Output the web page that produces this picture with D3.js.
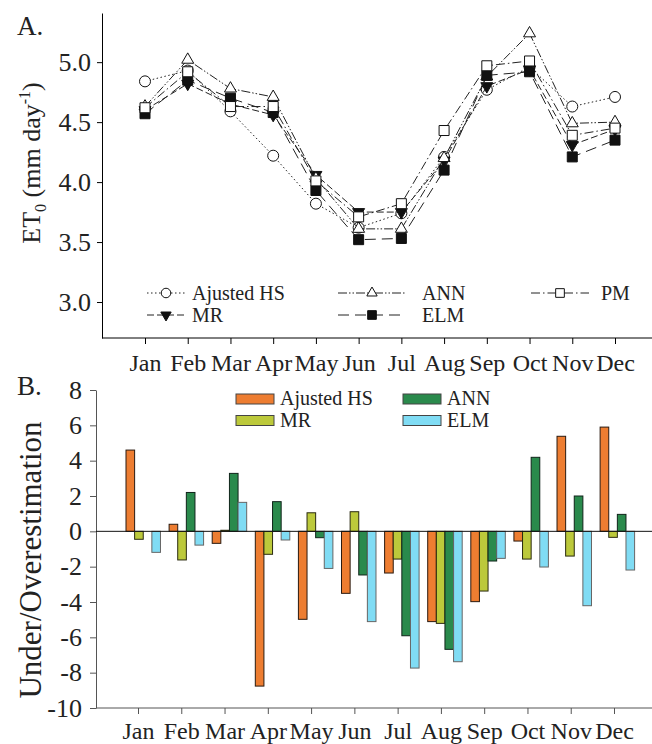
<!DOCTYPE html>
<html>
<head>
<meta charset="utf-8">
<script src="https://cdn.jsdelivr.net/npm/d3@7"></script>
<style>
body { margin: 0; background: #fff; }
svg text { font-family: "Liberation Serif", "Times New Roman", serif; fill: #222; }
</style>
</head>
<body>
<div id="chart"></div>
<script>
// months on both panels
const months = ["Jan", "Feb", "Mar", "Apr", "May", "Jun", "Jul", "Aug", "Sep", "Oct", "Nov", "Dec"];

// panel A: ET0 (mm/day)
const adjHS = [4.84, 4.93, 4.59, 4.22, 3.82, 3.62, 3.74, 4.21, 4.77, 4.96, 4.63, 4.71];
const mr    = [4.60, 4.82, 4.65, 4.56, 4.06, 3.75, 3.75, 4.18, 4.80, 4.94, 4.31, 4.44];
const ann   = [4.63, 5.02, 4.78, 4.71, 4.03, 3.61, 3.61, 4.20, 4.88, 5.24, 4.49, 4.50];
const elm   = [4.57, 4.85, 4.70, 4.58, 3.93, 3.52, 3.53, 4.10, 4.89, 4.92, 4.21, 4.35];
const pm    = [4.62, 4.92, 4.63, 4.63, 4.01, 3.71, 3.82, 4.43, 4.97, 5.01, 4.39, 4.45];
const etTicks = [3.0, 3.5, 4.0, 4.5, 5.0];

// panel B: under/overestimation
const barSeries = ["Ajusted HS", "MR", "ANN", "ELM"];
const adjDiff = [4.6, 0.4, -0.68, -8.76, -4.98, -3.51, -2.36, -5.11, -3.98, -0.55, 5.38, 5.9];
const mrDiff  = [-0.45, -1.62, 0.06, -1.3, 1.05, 1.11, -1.57, -5.21, -3.38, -1.57, -1.4, -0.34];
const annDiff = [0.0, 2.2, 3.28, 1.68, -0.36, -2.47, -5.91, -6.68, -1.68, 4.19, 2.0, 0.96];
const elmDiff = [-1.19, -0.78, 1.64, -0.49, -2.1, -5.11, -7.74, -7.38, -1.53, -2.02, -4.21, -2.19];
const diffTicks = [-10, -8, -6, -4, -2, 0, 2, 4, 6, 8];

const W = 652, H = 744;
const svg = d3.select("#chart").append("svg")
    .attr("width", W)
    .attr("height", H);

// ---------- panel A ----------
const xTop = d3.scalePoint(months, [145, 615]);
const yTop = d3.scaleLinear([2.7, 5.41], [338, 13]);

const topSeries = [
    { name: "Ajusted HS", values: adjHS, dash: "1.5,2.5", symbol: d3.symbolCircle, size: 95, fill: "#fff", rot: 0 },
    { name: "MR", values: mr, dash: "7,3", symbol: d3.symbolTriangle, size: 62, fill: "#111", rot: 180 },
    { name: "ANN", values: ann, dash: "9,2,1.5,2,1.5,2", symbol: d3.symbolTriangle, size: 62, fill: "#fff", rot: 0 },
    { name: "ELM", values: elm, dash: "11,6", symbol: d3.symbolSquare, size: 100, fill: "#111", rot: 0 },
    { name: "PM", values: pm, dash: "9,3,1.5,3", symbol: d3.symbolSquare, size: 100, fill: "#fff", rot: 0 }
];

let line = d3.line()
    .x((d, i) => xTop(months[i]))
    .y(d => yTop(d));

let yAxisTop = svg.append("g")
    .attr("transform", "translate(102,0)")
    .call(d3.axisLeft(yTop).tickValues(etTicks).tickFormat(d3.format(".1f")).tickSize(5).tickSizeOuter(0).tickPadding(6));
yAxisTop.selectAll("text").style("font-size", "26px");

let xAxisTop = svg.append("g")
    .attr("transform", "translate(0,338)")
    .call(d3.axisBottom(xTop).tickSize(6).tickPadding(10));
xAxisTop.select(".domain").remove();
xAxisTop.selectAll("text").style("font-size", "24px");

svg.append("line")
    .attr("x1", 102).attr("x2", W)
    .attr("y1", 338).attr("y2", 338)
    .attr("stroke", "#000");

svg.selectAll(".tick line").attr("stroke", "#000");
svg.selectAll(".domain").attr("stroke", "#000");

for (let s of topSeries) {
    svg.append("path")
        .datum(s.values)
        .attr("d", line)
        .attr("fill", "none")
        .attr("stroke", "#222")
        .attr("stroke-width", 1)
        .attr("stroke-dasharray", s.dash);
    svg.append("g")
        .selectAll("path")
        .data(s.values)
        .enter()
        .append("path")
        .attr("d", d3.symbol(s.symbol, s.size))
        .attr("transform", (d, i) => `translate(${xTop(months[i])},${yTop(d)}) rotate(${s.rot})`)
        .attr("fill", s.fill)
        .attr("stroke", "#111")
        .attr("stroke-width", 1);
}

// legend A
const legA = [
    { s: topSeries[0], x: 147, y: 293 },
    { s: topSeries[2], x: 338, y: 293 },
    { s: topSeries[4], x: 531, y: 293 },
    { s: topSeries[1], x: 147, y: 315 },
    { s: topSeries[3], x: 338, y: 315 }
];
const legTextX = { "Ajusted HS": 192, "MR": 192, "ANN": 422, "ELM": 422, "PM": 601 };
const legLen = { "Ajusted HS": 38, "MR": 38, "ANN": 68, "ELM": 68, "PM": 58 };
for (let l of legA) {
    let len = legLen[l.s.name];
    svg.append("line")
        .attr("x1", l.x).attr("x2", l.x + len)
        .attr("y1", l.y).attr("y2", l.y)
        .attr("stroke", "#222")
        .attr("stroke-dasharray", l.s.dash);
    svg.append("path")
        .attr("d", d3.symbol(l.s.symbol, l.s.size * 0.75))
        .attr("transform", `translate(${l.x + len / 2},${l.y}) rotate(${l.s.rot})`)
        .attr("fill", l.s.fill)
        .attr("stroke", "#111");
    svg.append("text")
        .attr("x", legTextX[l.s.name])
        .attr("y", l.y + 7)
        .style("font-size", "20px")
        .text(l.s.name);
}

// titles A
svg.append("text")
    .attr("x", 17).attr("y", 35)
    .style("font-size", "27px")
    .text("A.");

let tA = svg.append("text")
    .attr("transform", "translate(40,163) rotate(-90)")
    .attr("text-anchor", "middle")
    .style("font-size", "26px");
tA.append("tspan").text("ET");
tA.append("tspan").attr("dy", 6).style("font-size", "16px").text("0");
tA.append("tspan").attr("dy", -6).text(" (mm day");
tA.append("tspan").attr("dy", -10).style("font-size", "16px").text("-1");
tA.append("tspan").attr("dy", 10).text(")");

// ---------- panel B ----------
const barColor = d3.scaleOrdinal(barSeries, ["#ED7D31", "#BCC93B", "#2A8A4C", "#80DCF4"]);
const barStroke = d3.scaleOrdinal(barSeries, ["#2a1a10", "#2a2a10", "#10241a", "#666"]);
const diffs = [adjDiff, mrDiff, annDiff, elmDiff];

let barData = [];
months.forEach((m, i) => {
    barSeries.forEach((s, j) => {
        barData.push({ month: m, series: s, value: diffs[j][i] });
    });
});

const xBand = d3.scaleBand(months, [126, 634.6]).paddingInner(0.2).paddingOuter(0);
const xSub = d3.scaleBand(barSeries, [0, xBand.bandwidth()]);
const yBot = d3.scaleLinear([-10, 8], [708, 390]);
const xTick = d3.scalePoint(months, [138, 614]);

let yAxisBot = svg.append("g")
    .attr("transform", "translate(96,0)")
    .call(d3.axisLeft(yBot).tickValues(diffTicks).tickFormat(d => String(d)).tickSize(6).tickSizeOuter(0).tickPadding(8));
yAxisBot.selectAll("text").style("font-size", "26px");
yAxisBot.selectAll("line, .domain").attr("stroke", "#555");

let xAxisBot = svg.append("g")
    .attr("transform", "translate(0,708)")
    .call(d3.axisBottom(xTick).tickSize(6).tickPadding(8));
xAxisBot.select(".domain").remove();
xAxisBot.selectAll("line").attr("stroke", "#555");
xAxisBot.selectAll("text").style("font-size", "24px");

svg.append("line")
    .attr("x1", 96).attr("x2", W)
    .attr("y1", 708).attr("y2", 708)
    .attr("stroke", "#555");

svg.append("g")
    .selectAll("rect")
    .data(barData)
    .enter()
    .append("rect")
    .attr("x", d => xBand(d.month) + xSub(d.series))
    .attr("y", d => yBot(Math.max(0, d.value)))
    .attr("width", xSub.bandwidth())
    .attr("height", d => Math.abs(yBot(d.value) - yBot(0)))
    .attr("fill", d => barColor(d.series))
    .attr("stroke", d => barStroke(d.series))
    .attr("stroke-width", 1);

svg.append("line")
    .attr("x1", 96).attr("x2", W)
    .attr("y1", yBot(0)).attr("y2", yBot(0))
    .attr("stroke", "#111");

// legend B
const legB = [
    { name: "Ajusted HS", x: 236, y: 394 },
    { name: "MR", x: 236, y: 415.5 },
    { name: "ANN", x: 403, y: 394 },
    { name: "ELM", x: 403, y: 415.5 }
];
for (let l of legB) {
    svg.append("rect")
        .attr("x", l.x).attr("y", l.y)
        .attr("width", 38).attr("height", 10)
        .attr("fill", barColor(l.name))
        .attr("stroke", "#444");
    svg.append("text")
        .attr("x", l.x + 44)
        .attr("y", l.y + 11)
        .style("font-size", "20px")
        .text(l.name);
}

svg.append("text")
    .attr("x", 17).attr("y", 395)
    .style("font-size", "27px")
    .text("B.");

svg.append("text")
    .attr("transform", "translate(41,560) rotate(-90)")
    .attr("text-anchor", "middle")
    .style("font-size", "31px")
    .text("Under/Overestimation");
</script>
</body>
</html>
